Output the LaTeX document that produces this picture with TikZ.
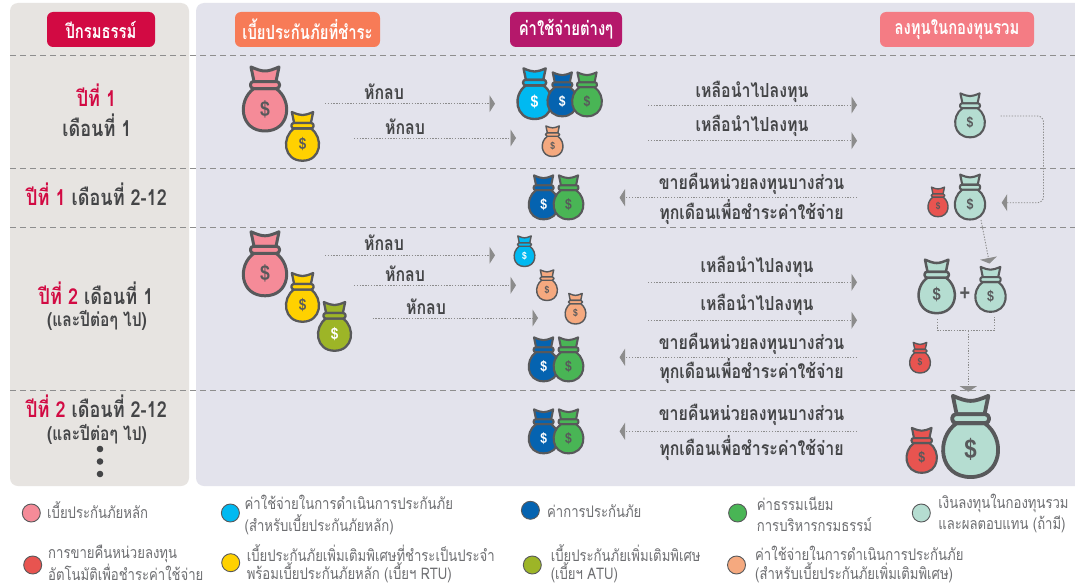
\documentclass[tikz,border=0pt]{standalone}
\usepackage{fontspec}
\usetikzlibrary{arrows.meta}
\newfontfamily\thf[Script=Thai,FakeStretch=0.82]{Loma}
\newfontfamily\thh[Script=Thai,FakeStretch=0.76]{Loma}
\newfontfamily\dollarf[FakeStretch=0.82]{Liberation Sans}
\definecolor{ink}{HTML}{58595B}
\definecolor{txt}{HTML}{444547}
\definecolor{leg}{HTML}{6D6E71}
\definecolor{rule}{HTML}{8E8E8E}
\definecolor{arrowc}{HTML}{8C8C8C}
\definecolor{pinkb}{HTML}{F58B98}
\definecolor{yellowb}{HTML}{FFD100}
\definecolor{oliveb}{HTML}{9DB527}
\definecolor{cyanb}{HTML}{00B9F1}
\definecolor{blueb}{HTML}{0563B0}
\definecolor{greenb}{HTML}{49B555}
\definecolor{orangeb}{HTML}{F5A97F}
\definecolor{tealb}{HTML}{B5DDD1}
\definecolor{redb}{HTML}{E85450}
\definecolor{crim}{HTML}{D20A43}
\definecolor{yearpanel}{HTML}{E7E4E1}
\definecolor{lanepanel}{HTML}{E3E3EC}
\definecolor{headorange}{HTML}{F77B57}
\definecolor{headpurple}{HTML}{B5186B}
\definecolor{headpink}{HTML}{F47C84}
\tikzset{
  flow/.style={draw=arrowc,line width=0.9pt,dash pattern=on 1.3pt off 1.5pt,
    -{Triangle[length=5.5pt,width=17pt,fill=arrowc]}},
  flowplain/.style={draw=arrowc,line width=0.9pt,dash pattern=on 1.3pt off 1.5pt},
  divider/.style={draw=rule,line width=1pt,dash pattern=on 6pt off 4pt},
  headbox/.style={rounded corners=6pt,minimum height=35pt,inner sep=0pt,text=white,
    font=\thh\bfseries\fontsize{19.5}{22}\selectfont},
  yeartxt/.style={font=\thf\bfseries\fontsize{22}{24}\selectfont,text=txt,inner sep=0pt},
  subtxt/.style={font=\thf\bfseries\fontsize{19}{22}\selectfont,text=txt,inner sep=0pt},
  flowtxt/.style={font=\thf\bfseries\fontsize{19.4}{22}\selectfont,text=txt,inner sep=0pt},
  legtxt/.style={font=\thf\fontsize{16}{18}\selectfont,text=leg,inner sep=0pt,anchor=west},
  legdot/.style={circle,draw=ink,line width=0.9pt,minimum size=18pt,inner sep=0pt},
}
% name, x, y, height, fill colour, dollar colour
\newcommand{\moneybag}[6]{%
  \pgfmathsetmacro{\bs}{#4/67}%
  \begin{scope}[shift={(#2,#3)},xscale=\bs,yscale=\bs,draw=ink,line join=round,
      line width={\bs*3pt}]
    \draw[fill=#5] (-11,-17) -- (-14,-31.5)
      .. controls (-8,-29) and (-4,-27.5) .. (0,-27.5)
      .. controls (4,-27.5) and (8,-29) .. (14,-31.5) -- (11,-17) -- cycle;
    \draw[fill=#5] (-11,-10) .. controls (-28,2) and (-25,32.5) .. (0,32.5)
      .. controls (25,32.5) and (28,2) .. (11,-10) -- cycle;
    \draw[fill=#5,rounded corners={\bs*3pt}] (-14.5,-17) rectangle (14.5,-10);
    \pgfmathsetmacro{\fs}{#4*0.32}%
    \node[inner sep=0pt,text=#6,font=\dollarf\bfseries\fontsize{\fs}{\fs}\selectfont] (#1) at (0,10.5) {\$};
  \end{scope}%
}
\newcommand{\hflow}[4]{%
  \coordinate (#1s) at (#2,#4);
  \coordinate (#1e) at (#3,#4);
  \draw[flow] (#1s) -- (#1e);
}
\begin{document}
\begin{tikzpicture}[x=1pt,y=-1pt]
\useasboundingbox (0,0) rectangle (1075,586);
\fill[white] (0,0) rectangle (1075,586);
% panels
\fill[yearpanel,rounded corners=8pt] (10,3) rectangle (189,486);
\fill[lanepanel] (1075,3) [rounded corners=8pt] -- (196,3) -- (196,486) [sharp corners] -- (1075,486) -- cycle;
% dividers
\foreach \yy/\nm in {56/d1,168/d2,227/d3,390/d4}{
  \coordinate (\nm s) at (10,\yy); \coordinate (\nm e) at (1075,\yy);
  \draw[divider] (\nm s) -- (\nm e);
}
% headers
\node[headbox,fill=crim,minimum width=108pt] (h1) at (101,29.5) {ปีกรมธรรม์};
\node[headbox,fill=headorange,minimum width=145pt] (h2) at (307.5,29.5) {เบี้ยประกันภัยที่ชำระ};
\node[headbox,fill=headpurple,minimum width=112pt] (h3) at (566,29.5) {ค่าใช้จ่ายต่างๆ};
\node[headbox,fill=headpink,minimum width=154pt] (h4) at (957,29.5) {ลงทุนในกองทุนรวม};
% left labels
\node[yeartxt,text=crim] (y1a) at (96.5,95) {ปีที่ 1};
\node[yeartxt] (y1b) at (97,125) {เดือนที่ 1};
\node[yeartxt] (y2) at (96.5,194) {{\color{crim}ปีที่ 1} เดือนที่ 2-12};
\node[yeartxt] (y3a) at (96,293) {{\color{crim}ปีที่ 2} เดือนที่ 1};
\node[subtxt] (y3b) at (97,320.5) {(และปีต่อๆ ไป)};
\node[yeartxt] (y4a) at (96.5,406) {{\color{crim}ปีที่ 2} เดือนที่ 2-12};
\node[subtxt] (y4b) at (97,434) {(และปีต่อๆ ไป)};
\foreach \yy/\nm in {449/e1,461.5/e2,474/e3}{
  \node[circle,fill=txt,minimum size=6.6pt,inner sep=0pt] (\nm) at (100,\yy) {};
}
% row 1 bags
\moneybag{p1}{265}{98.5}{67}{pinkb}{ink}
\moneybag{y1}{302.5}{136}{51}{yellowb}{ink}
\moneybag{c1}{534.6}{93.3}{53}{cyanb}{white}
\moneybag{b1}{562.3}{94}{46}{blueb}{white}
\moneybag{g1}{587}{94}{46}{greenb}{ink}
\moneybag{o1}{552.6}{141}{32}{orangeb}{ink}
\moneybag{t1}{970}{115}{46}{tealb}{ink}
% row 2 bags
\moneybag{b2}{543.6}{197}{46}{blueb}{white}
\moneybag{g2}{568.5}{197}{46}{greenb}{ink}
\moneybag{r2}{938}{201.7}{31}{redb}{ink}
\moneybag{t2}{970}{196.7}{47}{tealb}{ink}
% row 3 bags
\moneybag{p3}{265}{263.3}{67}{pinkb}{ink}
\moneybag{y3}{302.5}{297}{51}{yellowb}{ink}
\moneybag{v3}{334.5}{326}{51}{oliveb}{white}
\moneybag{c3}{524.5}{251}{32}{cyanb}{white}
\moneybag{o3}{547}{285}{32}{orangeb}{ink}
\moneybag{q3}{575.5}{308.5}{32}{orangeb}{ink}
\moneybag{b3}{543.6}{359}{46}{blueb}{white}
\moneybag{g3}{568.5}{359}{46}{greenb}{ink}
\moneybag{t3}{936.7}{286}{56}{tealb}{ink}
\moneybag{u3}{990.5}{289}{47}{tealb}{ink}
\moneybag{r3}{920}{357.5}{32}{redb}{ink}
\node[font=\dollarf\bfseries\fontsize{22}{22}\selectfont,text=ink,inner sep=0pt] (plus) at (965,294) {+};
% row 4 bags
\moneybag{b4}{543.6}{431}{46}{blueb}{white}
\moneybag{g4}{568.5}{431}{46}{greenb}{ink}
\moneybag{r4}{921.7}{450}{47}{redb}{ink}
\moneybag{t4}{970.6}{435.8}{85}{tealb}{ink}
% flow labels
\node[flowtxt] (la1) at (384,92) {หักลบ};
\node[flowtxt] (la2) at (405,127) {หักลบ};
\node[flowtxt] (la3) at (752,92) {เหลือนำไปลงทุน};
\node[flowtxt] (la4) at (752,126) {เหลือนำไปลงทุน};
\node[flowtxt] (la5) at (751.5,184) {ขายคืนหน่วยลงทุนบางส่วน};
\node[flowtxt] (la6) at (751.5,212) {ทุกเดือนเพื่อชำระค่าใช้จ่าย};
\node[flowtxt] (la7) at (384,243) {หักลบ};
\node[flowtxt] (la8) at (405,274) {หักลบ};
\node[flowtxt] (la9) at (426,307) {หักลบ};
\node[flowtxt] (la10) at (757,267) {เหลือนำไปลงทุน};
\node[flowtxt] (la11) at (757,305) {เหลือนำไปลงทุน};
\node[flowtxt] (la12) at (751.5,343.5) {ขายคืนหน่วยลงทุนบางส่วน};
\node[flowtxt] (la13) at (751.5,371.5) {ทุกเดือนเพื่อชำระค่าใช้จ่าย};
\node[flowtxt] (la14) at (751.5,414.5) {ขายคืนหน่วยลงทุนบางส่วน};
\node[flowtxt] (la15) at (751.5,448) {ทุกเดือนเพื่อชำระค่าใช้จ่าย};
% flows
\hflow{f1}{325}{495}{103.7}
\hflow{f2}{354}{516}{138}
\hflow{f3}{648}{857}{105}
\hflow{f4}{648}{857}{140.7}
\hflow{f5}{857}{619.5}{197.7}
\hflow{f6}{325}{495}{255.3}
\hflow{f7}{354}{516}{285.3}
\hflow{f8}{372.6}{538}{318}
\hflow{f9}{648}{857}{282.3}
\hflow{f10}{648}{857}{320.3}
\hflow{f11}{857}{619.5}{357.3}
\hflow{f12}{857}{619.5}{431.3}
% fund connectors
\coordinate (k1) at (1000.5,116); \coordinate (k2) at (1001.7,202.7);
\draw[flow,rounded corners=6pt] (k1) -- (1043.5,116) -- (1043.5,202.7) -- (k2);
\coordinate (k3) at (981,220); \coordinate (k4) at (989.5,263.5);
\draw[flow] (k3) -- (k4);
\coordinate (k5) at (937.5,319); \coordinate (k6) at (937.5,330.7);
\coordinate (k7) at (994,330.7); \coordinate (k8) at (994,316.7);
\draw[flowplain] (k5) -- (k6) -- (k7) -- (k8);
\coordinate (k9) at (968.3,330.7); \coordinate (k10) at (968.3,391.7);
\draw[flow] (k9) -- (k10);
% legend
\node[legdot,fill=pinkb] (d1) at (31.3,513) {};
\node[legtxt] (t1a) at (47,510.5) {เบี้ยประกันภัยหลัก};
\node[legdot,fill=cyanb] (d2) at (230.4,513) {};
\node[legtxt] (t2a) at (244.5,502.7) {ค่าใช้จ่ายในการดำเนินการประกันภัย};
\node[legtxt] (t2b) at (244.5,524.3) {(สำหรับเบี้ยประกันภัยหลัก)};
\node[legdot,fill=blueb] (d3) at (530.4,510.3) {};
\node[legtxt] (t3a) at (547,511.2) {ค่าการประกันภัย};
\node[legdot,fill=greenb] (d4) at (737.6,513) {};
\node[legtxt] (t4a) at (756.7,503.3) {ค่าธรรมเนียม};
\node[legtxt] (t4b) at (756.7,524.7) {การบริหารกรมธรรม์};
\node[legdot,fill=tealb] (d5) at (921.3,513) {};
\node[legtxt] (t5a) at (938.2,503.3) {เงินลงทุนในกองทุนรวม};
\node[legtxt] (t5b) at (938.2,524.7) {และผลตอบแทน (ถ้ามี)};
\node[legdot,fill=redb] (d6) at (32.7,565) {};
\node[legtxt] (t6a) at (48,553.5) {การขายคืนหน่วยลงทุน};
\node[legtxt] (t6b) at (48,572.5) {อัตโนมัติเพื่อชำระค่าใช้จ่าย};
\node[legdot,fill=yellowb] (d7) at (230.7,562.7) {};
\node[legtxt] (t7a) at (246.6,553.5) {เบี้ยประกันภัยเพิ่มเติมพิเศษที่ชำระเป็นประจำ};
\node[legtxt] (t7b) at (246.6,572.5) {พร้อมเบี้ยประกันภัยหลัก (เบี้ยฯ RTU)};
\node[legdot,fill=oliveb] (d8) at (532.3,565) {};
\node[legtxt] (t8a) at (550.6,553.5) {เบี้ยประกันภัยเพิ่มเติมพิเศษ};
\node[legtxt] (t8b) at (550.6,572.5) {(เบี้ยฯ ATU)};
\node[legdot,fill=orangeb] (d9) at (736.5,565) {};
\node[legtxt] (t9a) at (755,553.5) {ค่าใช้จ่ายในการดำเนินการประกันภัย};
\node[legtxt] (t9b) at (755,572.5) {(สำหรับเบี้ยประกันภัยเพิ่มเติมพิเศษ)};
\end{tikzpicture}
\end{document}
